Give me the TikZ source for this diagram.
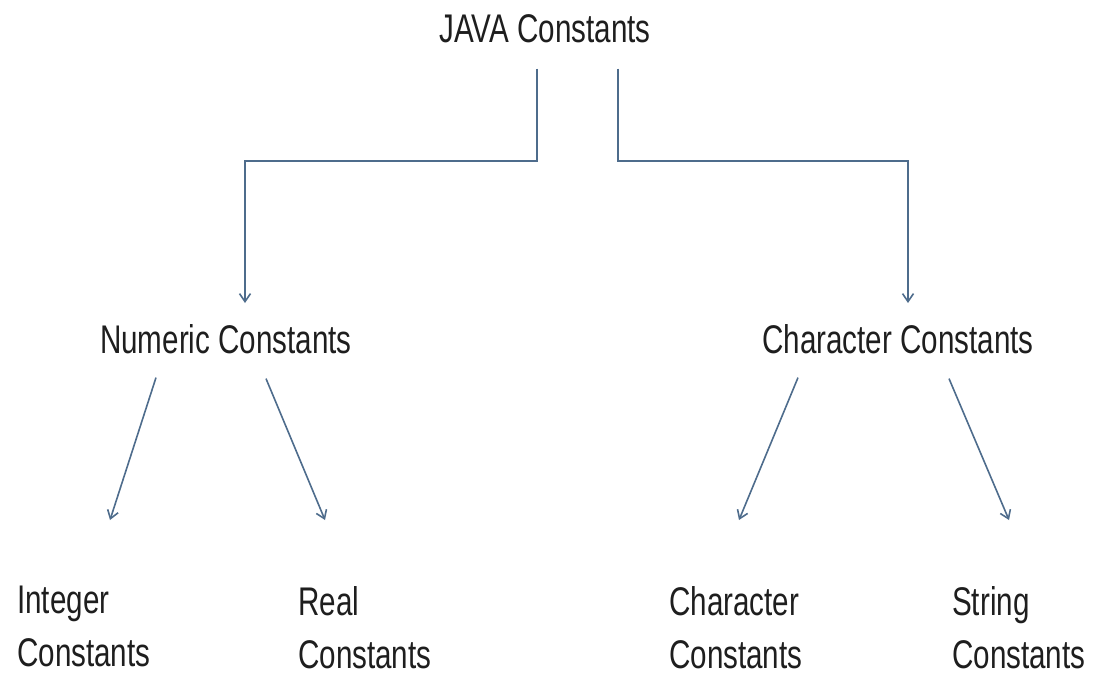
\documentclass[tikz,border=0pt]{standalone}
\usepackage{fontspec}
\setmainfont{Liberation Sans}[FakeStretch=0.74]
\usepackage{tikz}
\usetikzlibrary{arrows.meta,positioning}

\definecolor{linkblue}{RGB}{78,108,140}
\definecolor{textgrey}{RGB}{30,30,30}

\begin{document}
\begin{tikzpicture}[x=1pt, y=-1pt,
  every node/.style = {inner sep=0pt, text=textgrey,
    font=\fontsize{40}{53}\selectfont},
  leaf/.style = {anchor=north west, align=left},
  group/.style = {anchor=base},
  link/.style = {draw=linkblue, line width=1.6pt,
    -{Straight Barb[length=8pt,width=11pt]}}]
  \useasboundingbox (0,0) rectangle (1101,678);

  \node[group] (java) at (545,42) {JAVA Constants};
  \node[group] (numeric) at (226,353) {Numeric Constants};
  \node[group] (character) at (898,353) {Character Constants};

  \node[leaf] (integer) at (17,586) {Integer\\Constants};
  \node[leaf] (real) at (298,586) {Real\\Constants};
  \node[leaf] (charconst) at (669,586) {Character\\Constants};
  \node[leaf] (string) at (952,586) {String\\Constants};

  % top level
  \coordinate (numtip) at (245,303);
  \coordinate (chartip) at (908,303);
  \draw[link] ([shift={(-8,26)}]java.south) |- ([yshift=142pt]numtip) -- (numtip);
  \draw[link] ([shift={(73,26)}]java.south) |- ([yshift=142pt]chartip) -- (chartip);

  % second level
  \draw[link] ([shift={(-70,24)}]numeric.south) -- ([shift={(93,-66)}]integer.north west);
  \draw[link] ([shift={(40,25)}]numeric.south) -- ([shift={(27,-66)}]real.north west);
  \draw[link] ([shift={(-100,24)}]character.south) -- ([shift={(70,-66)}]charconst.north west);
  \draw[link] ([shift={(51,25)}]character.south) -- ([shift={(57,-66)}]string.north west);
\end{tikzpicture}
\end{document}
